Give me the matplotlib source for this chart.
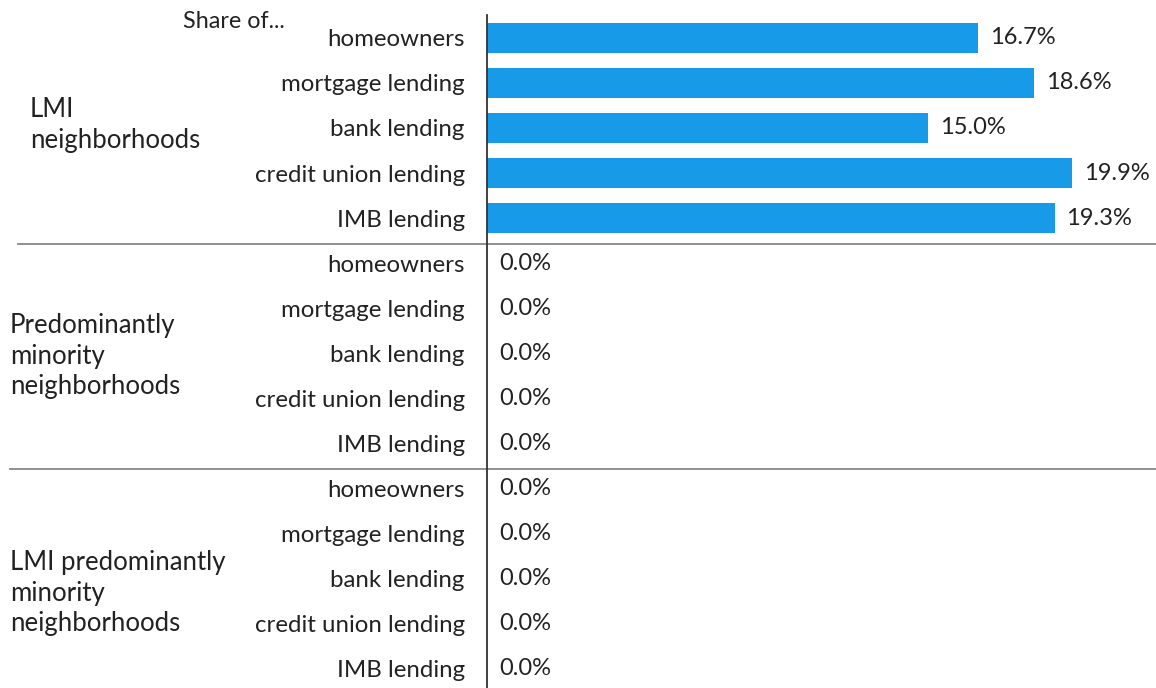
import numpy as np
import matplotlib.pyplot as plt
import matplotlib.transforms as mtransforms

plt.rcParams['font.family'] = ['Lato', 'DejaVu Sans']

groups = ["LMI\nneighborhoods",
          "Predominantly\nminority\nneighborhoods",
          "LMI predominantly\nminority\nneighborhoods"]
categories = ["homeowners", "mortgage lending", "bank lending",
              "credit union lending", "IMB lending"]
shares = [
    [16.7, 18.6, 15.0, 19.9, 19.3],
    [0.0, 0.0, 0.0, 0.0, 0.0],
    [0.0, 0.0, 0.0, 0.0, 0.0],
]

bar_color = "#179BE8"
text_color = "#222222"

fig = plt.figure(figsize=(11.56, 6.88), dpi=100)
ax = fig.add_axes([487 / 1156, 0, 1 - 487 / 1156, 1 - 15 / 688])

n_cat = len(categories)
values = np.concatenate(shares)
labels = categories * len(groups)
y = np.arange(len(values))

ax.barh(y, values, height=0.66, color=bar_color)
for yi, v in zip(y, values):
    ax.text(v + 0.4, yi, f"{v:.1f}%", va="center", ha="left",
            fontsize=17, color=text_color)

ax.set_ylim(len(values) - 0.56, -0.51)
ax.set_xlim(0, 22.75)
ax.set_yticks(y)
ax.set_yticklabels(labels, fontsize=17.3, color=text_color)
ax.tick_params(axis="y", length=0, pad=16)
ax.set_xticks([])
for s in ["top", "right", "bottom"]:
    ax.spines[s].set_visible(False)
ax.spines["left"].set_color("#333333")
ax.spines["left"].set_linewidth(1.3)

# separators between groups, running from the left page edge
trans = mtransforms.blended_transform_factory(fig.transFigure, ax.transData)
for k, x0 in zip(range(1, len(groups)), [18 / 1156, 10 / 1156]):
    yy = k * n_cat - 0.5 + 0.08
    ax.plot([x0, 1], [yy, yy], transform=trans, color="#888888",
            lw=1.3, clip_on=False)

# group titles on the left
group_y = [1.93, 7.07, 12.33]
group_x = [30 / 1156, 10 / 1156, 10 / 1156]
for g, gx, gy in zip(groups, group_x, group_y):
    ax.text(gx, gy, g, transform=trans, ha="left", va="center",
            fontsize=18.5, color=text_color, linespacing=1.27)

fig.text(285 / 1156, 1 - 21 / 688, "Share of...", ha="right", va="center",
         fontsize=16.8, color=text_color)

fig.savefig("out.png", dpi=100)
